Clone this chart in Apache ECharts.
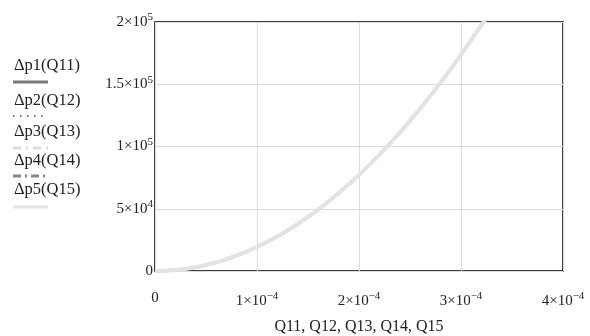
<!DOCTYPE html>
<html><head><meta charset="utf-8">
<script src="https://cdn.jsdelivr.net/npm/echarts@6/dist/echarts.min.js"></script>
<style>html,body{margin:0;padding:0;background:#fff}#c{width:590px;height:336px}</style>
</head><body><div id="c"></div>
<script>
var Q = [0, 0.00002, 0.00004, 0.00006, 0.00008, 0.0001, 0.00012, 0.00014, 0.00016, 0.00018, 0.0002, 0.00022, 0.00024, 0.00026, 0.00028, 0.0003, 0.00032, 0.000325];
var dp1 = [0, 770, 3090, 6950, 12350, 19300, 27800, 37800, 49400, 62500, 77200, 93400, 111200, 130500, 151300, 173700, 197600, 203000];
var dp2 = [0, 770, 3090, 6950, 12350, 19300, 27800, 37800, 49400, 62500, 77200, 93400, 111200, 130500, 151300, 173700, 197600, 203000];
var dp3 = [0, 770, 3090, 6950, 12350, 19300, 27800, 37800, 49400, 62500, 77200, 93400, 111200, 130500, 151300, 173700, 197600, 203000];
var dp4 = [0, 770, 3090, 6950, 12350, 19300, 27800, 37800, 49400, 62500, 77200, 93400, 111200, 130500, 151300, 173700, 197600, 203000];
var dp5 = [0, 770, 3090, 6950, 12350, 19300, 27800, 37800, 49400, 62500, 77200, 93400, 111200, 130500, 151300, 173700, 197600, 203000];
var seriesNames = ['Δp1(Q11)', 'Δp2(Q12)', 'Δp3(Q13)', 'Δp4(Q14)', 'Δp5(Q15)'];
var xTickLabels = [['0', ''], ['1×10', '−4'], ['2×10', '−4'], ['3×10', '−4'], ['4×10', '−4']];
var yTickLabels = [['0', ''], ['5×10', '4'], ['1×10', '5'], ['1.5×10', '5'], ['2×10', '5']];
var xAxisTitle = 'Q11, Q12, Q13, Q14, Q15';

var FONT = '"Liberation Serif","Times New Roman",serif';
var chart = echarts.init(document.getElementById('c'));
function pairs(ys){ return Q.map(function(q,i){ return [q, ys[i]]; }); }
function lab(p){ return p[1] ? '{b|' + p[0] + '}{s|' + p[1] + '}' : '{b|' + p[0] + '}'; }
var rich = {
  b: {fontFamily: FONT, fontSize: 15, color: '#222'},
  s: {fontFamily: FONT, fontSize: 11, color: '#222', verticalAlign: 'top', padding: [0, 0, 9, 0]}
};
var styles = [
  {color: '#7a7a7a', width: 3, type: 'solid'},
  {color: '#444', width: 1.5, type: [1.5, 5.5]},
  {color: '#dcdcdc', width: 3, type: [8, 5, 2, 5]},
  {color: '#888', width: 3, type: [8, 4, 2, 4]},
  {color: '#e3e3e3', width: 4, type: 'solid'}
];
var datas = [dp1, dp2, dp3, dp4, dp5];
var legendText = [66, 101, 132, 161, 190];
var legendLine = [82, 116, 148, 176, 207];
var graphic = [];
seriesNames.forEach(function(n, i){
  graphic.push({type: 'text', x: 14, y: legendText[i], style: {text: n, font: '16.5px ' + FONT, fill: '#222', verticalAlign: 'middle'}});
  graphic.push({type: 'line', shape: {x1: 13, y1: legendLine[i], x2: 48, y2: legendLine[i]},
    style: {stroke: styles[i].color, lineWidth: i === 1 ? 1.5 : 3, lineDash: styles[i].type === 'solid' ? null : styles[i].type}});
});
chart.setOption({
  animation: false,
  grid: {left: 155, right: 27, top: 22, bottom: 65, outerBoundsMode: 'none', containLabel: false,
    show: true, borderColor: '#000', borderWidth: 1.5, backgroundColor: 'transparent'},
  graphic: graphic,
  xAxis: {
    type: 'value', min: 0, max: 0.0004, interval: 0.0001,
    name: xAxisTitle, nameLocation: 'middle', nameGap: 48,
    nameTextStyle: {fontFamily: FONT, fontSize: 16, color: '#222'},
    axisLine: {show: false}, axisTick: {show: false},
    splitLine: {lineStyle: {color: '#dcdcdc', width: 1}},
    axisLabel: {margin: 20, rich: rich, formatter: function(v){ return lab(xTickLabels[Math.round(v / 0.0001)]); }}
  },
  yAxis: {
    type: 'value', min: 0, max: 200000, interval: 50000,
    axisLine: {show: false}, axisTick: {show: false},
    splitLine: {lineStyle: {color: '#dcdcdc', width: 1}},
    axisLabel: {margin: 2, rich: rich, formatter: function(v){ return lab(yTickLabels[Math.round(v / 50000)]); }}
  },
  series: datas.map(function(d, i){
    return {name: seriesNames[i], type: 'line', data: pairs(d), smooth: true, showSymbol: false, clip: true,
      lineStyle: styles[i], z: 2 + i};
  })
});
</script></body></html>
